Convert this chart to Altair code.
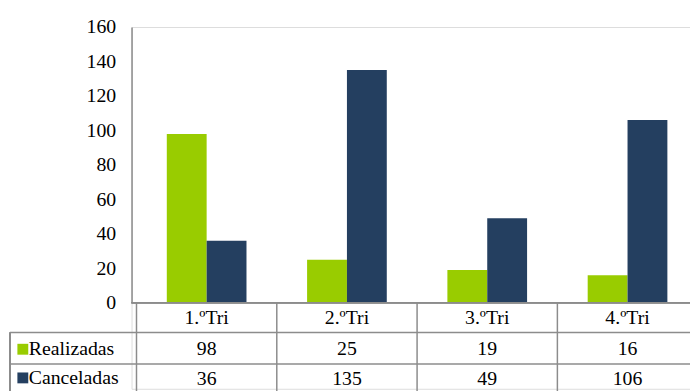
import altair as alt
import pandas as pd

categories = ["1.ºTri", "2.ºTri", "3.ºTri", "4.ºTri"]
series_names = ["Realizadas", "Canceladas"]
realizadas = [98, 25, 19, 16]
canceladas = [36, 135, 49, 106]
colors = ["#99CC00", "#243F60"]
y_ticks = [0, 20, 40, 60, 80, 100, 120, 140, 160]

rows = []
for i, (c, r, k) in enumerate(zip(categories, realizadas, canceladas)):
    rows.append({"cat": c, "idx": i, "serie": "Realizadas", "value": r})
    rows.append({"cat": c, "idx": i, "serie": "Canceladas", "value": k})
df = pd.DataFrame(rows)
cat_df = pd.DataFrame({"cat": categories, "idx": list(range(len(categories)))})
leg_df = pd.DataFrame({"serie": series_names, "ypos": [326, 355]})

FONT = "Liberation Serif"
GRID = "#8c8c8c"
W = 565
STEP = 144.5  # pixel width of one category column; the last one runs past the right edge
BAR_START = 0.216
BAR_W = 0.284

xscale = alt.Scale(domain=[0, W / STEP], nice=False, zero=False)
yscale = alt.Scale(domain=[0, 160], range=[279, 0], nice=False)
cscale = alt.Scale(domain=series_names, range=colors)

bars = alt.Chart(df).transform_calculate(
    xs=f"datum.idx + {BAR_START} + (datum.serie == 'Realizadas' ? 0 : {BAR_W})",
    xe=f"datum.idx + {BAR_START} + (datum.serie == 'Realizadas' ? {BAR_W} : {2 * BAR_W})",
).mark_bar(orient="vertical").encode(
    x=alt.X("xs:Q", scale=xscale, axis=None),
    x2="xe:Q",
    y=alt.Y("value:Q", scale=yscale, axis=alt.Axis(values=y_ticks, title=None, grid=False, ticks=False,
                                                  labelFont=FONT, labelFontSize=20, labelColor="#000000",
                                                  labelPadding=16, domainColor=GRID, domainWidth=1.5)),
    y2=alt.datum(0),
    color=alt.Color("serie:N", scale=cscale, legend=None),
)

zero_line = alt.Chart(cat_df).mark_rule(color=GRID, strokeWidth=1.5).encode(
    x=alt.value(0), x2=alt.value(W), y=alt.value(279)
)
hl = alt.Chart(pd.DataFrame({"yy": [309, 341]})).mark_rule(color=GRID, strokeWidth=1.5).encode(
    x=alt.value(-123), x2=alt.value(W), y=alt.Y("yy:Q", scale=None)
)
vlines = alt.Chart(cat_df).mark_rule(color=GRID, strokeWidth=1.5).encode(
    x=alt.X("idx:Q", scale=xscale, axis=None),
    y=alt.value(279), y2=alt.value(380)
)
left_line = alt.Chart(cat_df).mark_rule(color=GRID, strokeWidth=1.5).encode(
    x=alt.value(-123), y=alt.value(309), y2=alt.value(380)
)
header = alt.Chart(cat_df).transform_calculate(xc="datum.idx + 0.5").mark_text(
    font=FONT, fontSize=20, color="#000000", baseline="middle").encode(
    x=alt.X("xc:Q", scale=xscale, axis=None), y=alt.value(294), text="cat:N"
)
val_r = alt.Chart(df[df.serie == "Realizadas"]).transform_calculate(xc="datum.idx + 0.5").mark_text(
    font=FONT, fontSize=20, color="#000000", baseline="middle").encode(
    x=alt.X("xc:Q", scale=xscale, axis=None), y=alt.value(326), text="value:Q"
)
val_c = alt.Chart(df[df.serie == "Canceladas"]).transform_calculate(xc="datum.idx + 0.5").mark_text(
    font=FONT, fontSize=20, color="#000000", baseline="middle").encode(
    x=alt.X("xc:Q", scale=xscale, axis=None), y=alt.value(356), text="value:Q"
)
leg_sq = alt.Chart(leg_df).mark_square(size=121, opacity=1).encode(
    x=alt.value(-110), y=alt.Y("ypos:Q", scale=None),
    color=alt.Color("serie:N", scale=cscale, legend=None),
)
leg_tx = alt.Chart(leg_df).mark_text(font=FONT, fontSize=20, color="#000000", align="left", baseline="middle").encode(
    x=alt.value(-104), y=alt.Y("ypos:Q", scale=None), text="serie:N"
)

chart = alt.layer(bars, hl, vlines, left_line, zero_line, header, val_r, val_c, leg_sq, leg_tx).properties(
    width=W, height=366,
    autosize=alt.AutoSizeParams(type="none"),
    padding={"left": 125, "top": 17, "right": 0, "bottom": 0},
).configure_view(stroke=None).configure(background="#ffffff")

chart.save("out.html", embed_options={"renderer": "svg", "actions": False})
